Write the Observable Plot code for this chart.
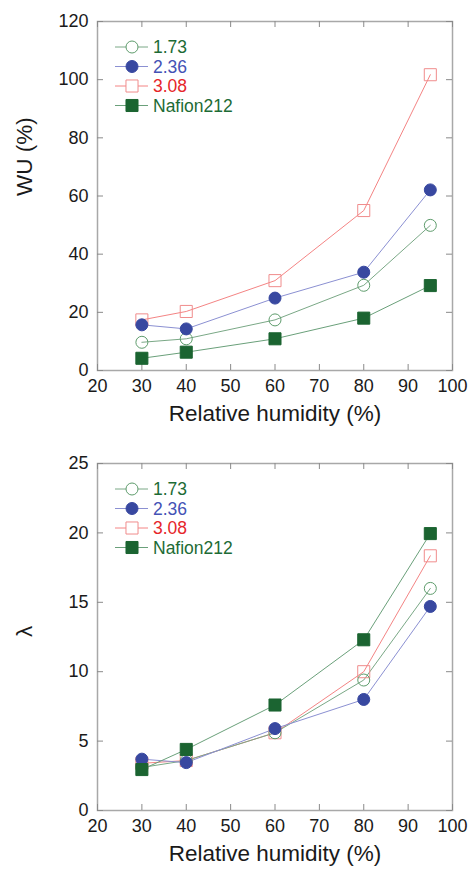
<!DOCTYPE html>
<html>
<head>
<meta charset="utf-8">
<script src="https://cdn.jsdelivr.net/npm/d3@7"></script>
<script src="https://cdn.jsdelivr.net/npm/@observablehq/plot@0.6"></script>
<style>
  html, body { margin: 0; padding: 0; background: #fff; }
  #chart { width: 470px; }
  #chart svg { display: block; }
</style>
</head>
<body>
<div id="chart"></div>
<script>
// ---- data ----
const rh = [30, 40, 60, 80, 95];
const seriesNames = ["1.73", "2.36", "3.08", "Nafion212"];

const wu173 = [9.7, 10.9, 17.4, 29.3, 49.9];
const wu236 = [15.7, 14.3, 24.9, 33.8, 62.1];
const wu308 = [17.4, 20.3, 30.9, 55.0, 101.7];
const wuNaf = [4.2, 6.3, 10.9, 18.0, 29.2];

const lam173 = [3.1, 3.6, 5.6, 9.4, 16.0];
const lam236 = [3.7, 3.45, 5.9, 8.0, 14.7];
const lam308 = [3.4, 3.6, 5.6, 10.0, 18.35];
const lamNaf = [2.95, 4.4, 7.6, 12.3, 19.95];

const xTicks = [20, 30, 40, 50, 60, 70, 80, 90, 100];
const wuTicks = [0, 20, 40, 60, 80, 100, 120];
const lamTicks = [0, 5, 10, 15, 20, 25];

// ---- styles ----
const styles = {
  "1.73":      {symbol: "circle", r: 6,   fill: "none",    stroke: "#5e9c6c", line: "#7aa886", text: "#1d6b35"},
  "2.36":      {symbol: "circle", r: 6,   fill: "#3848a0", stroke: "#3848a0", line: "#8b90d2", text: "#4452b5"},
  "3.08":      {symbol: "square", r: 6.8, fill: "none",    stroke: "#f08c8c", line: "#f48484", text: "#e6252a"},
  "Nafion212": {symbol: "square", r: 6.8, fill: "#1b6431", stroke: "#1b6431", line: "#6aa07a", text: "#1d6b35"}
};
const drawOrder = ["3.08", "1.73", "2.36", "Nafion212"];

const W = 470, ML = 97, MR = 18;
const font = "'Liberation Sans', Arial, sans-serif";
const frameColor = "#a8a8a8";
const tickColor = "#8a8a8a";

function makeChart({values, yDomain, yTicks, yLabel, height, marginTop, marginBottom}) {
  const data = [];
  seriesNames.forEach((s, k) => rh.forEach((x, i) => data.push({series: s, x, y: values[k][i]})));
  const ph = height - marginTop - marginBottom;
  const pw = W - ML - MR;
  const tickLen = 6;
  const marks = [
    Plot.frame({stroke: frameColor, strokeWidth: 1.5}),
    Plot.tickX(xTicks, {x: d => d, stroke: tickColor, insetTop: ph - tickLen}),
    Plot.tickX(xTicks, {x: d => d, stroke: tickColor, insetBottom: ph - tickLen}),
    Plot.tickY(yTicks, {y: d => d, stroke: tickColor, insetRight: pw - tickLen}),
    Plot.tickY(yTicks, {y: d => d, stroke: tickColor, insetLeft: pw - tickLen}),
    Plot.axisX({ticks: xTicks, tickSize: 0, tickPadding: 9, label: null, fontSize: 18, fill: "#1a1a1a"}),
    Plot.axisY({ticks: yTicks, tickSize: 0, tickPadding: 9, label: null, fontSize: 18, fill: "#1a1a1a"}),
    Plot.text(["Relative humidity (%)"], {text: d => d, frameAnchor: "bottom", dy: 50, fontSize: 22.5, fill: "#1a1a1a"}),
    Plot.text([yLabel], {text: d => d, frameAnchor: "left", dx: -73, rotate: -90, fontSize: 22.5, fill: "#1a1a1a"})
  ];
  for (const s of drawOrder) {
    marks.push(Plot.line(data.filter(d => d.series === s), {x: "x", y: "y", stroke: styles[s].line, strokeWidth: 1}));
  }
  for (const s of drawOrder) {
    const st = styles[s];
    marks.push(Plot.dot(data.filter(d => d.series === s), {x: "x", y: "y", symbol: st.symbol, r: st.r, fill: st.fill, stroke: st.stroke, strokeWidth: 1}));
  }
  const svg = Plot.plot({
    width: W,
    height,
    marginLeft: ML,
    marginRight: MR,
    marginTop,
    marginBottom,
    style: {fontFamily: font, background: "#fff", overflow: "visible"},
    x: {domain: [20, 100]},
    y: {domain: yDomain},
    marks
  });
  // legend inside the frame, top-left
  const g = d3.select(svg).append("g").attr("font-family", font).attr("text-anchor", "start");
  seriesNames.forEach((s, i) => {
    const st = styles[s];
    const cy = marginTop + 26 + i * 19.5;
    const x0 = ML + 18, x1 = ML + 51, cx = ML + 35;
    g.append("line").attr("x1", x0).attr("x2", x1).attr("y1", cy).attr("y2", cy)
      .attr("stroke", st.line).attr("stroke-width", 1);
    const sym = d3.symbol().type(st.symbol === "circle" ? d3.symbolCircle : d3.symbolSquare)
      .size(st.r * st.r * Math.PI);
    g.append("path").attr("d", sym()).attr("transform", `translate(${cx},${cy})`)
      .attr("fill", st.fill === "none" ? "#fff" : st.fill).attr("stroke", st.stroke).attr("stroke-width", 1);
    g.append("text").attr("x", ML + 56).attr("y", cy).attr("dy", "0.36em")
      .attr("text-anchor", "start")
      .attr("font-size", 17.5).attr("fill", st.text).text(s);
  });
  return svg;
}

const chartTop = makeChart({
  values: [wu173, wu236, wu308, wuNaf],
  yDomain: [0, 120], yTicks: wuTicks, yLabel: "WU (%)",
  height: 430, marginTop: 21, marginBottom: 60
});
const chartBottom = makeChart({
  values: [lam173, lam236, lam308, lamNaf],
  yDomain: [0, 25], yTicks: lamTicks, yLabel: "λ",
  height: 442, marginTop: 33, marginBottom: 62
});
document.getElementById("chart").append(chartTop, chartBottom);
</script>
</body>
</html>
